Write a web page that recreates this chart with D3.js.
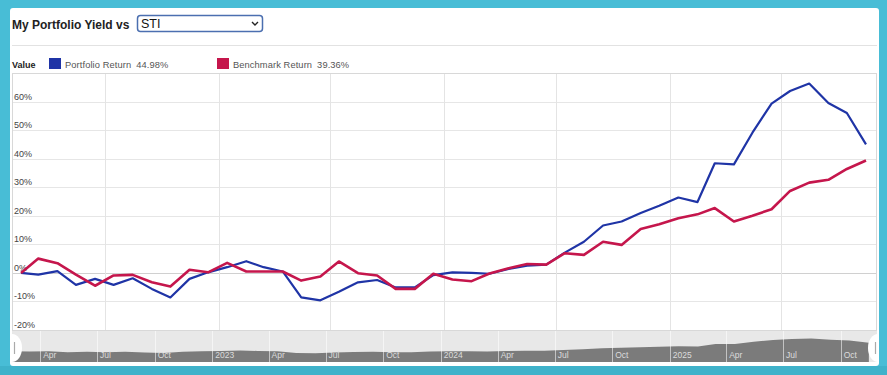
<!DOCTYPE html>
<html>
<head>
<meta charset="utf-8">
<script src="https://cdn.jsdelivr.net/npm/d3@7/dist/d3.min.js"></script>
<style>
  html, body { margin: 0; padding: 0; background: #48bdd6; }
  svg { display: block; }
  text { font-family: "Liberation Sans", Arial, Helvetica, sans-serif; }
</style>
</head>
<body>
<svg id="chart" width="887" height="375"></svg>
<script>
// ---------- DATA ----------
const dates = [
  "2022-02-15","2022-03-15","2022-04-15","2022-05-15","2022-06-15","2022-07-15",
  "2022-08-15","2022-09-15","2022-10-15","2022-11-15","2022-12-15",
  "2023-01-15","2023-02-15","2023-03-15","2023-04-15","2023-05-15","2023-06-15",
  "2023-07-15","2023-08-15","2023-09-15","2023-10-15","2023-11-15","2023-12-15",
  "2024-01-15","2024-02-15","2024-03-15","2024-04-15","2024-05-15","2024-06-15",
  "2024-07-15","2024-08-15","2024-09-15","2024-10-15","2024-11-15","2024-12-15",
  "2025-01-15","2025-02-15","2025-03-15","2025-04-15","2025-05-15","2025-06-15",
  "2025-07-15","2025-08-15","2025-09-15","2025-10-15","2025-11-15"
];
const portfolioReturn = [
  0, -0.6, 0.6, -4.2, -2.1, -4.2, -1.9, -5.6, -8.6, -2.1, 0.2,
  2.0, 4.1, 2.0, 0.5, -8.6, -9.6, -6.6, -3.3, -2.5, -5.1, -5.1, -0.8,
  0.2, 0.0, -0.3, 1.4, 2.5, 2.9, 7.1, 10.9, 16.6, 18.0, 21.0, 23.5,
  26.4, 24.8, 38.4, 38.0, 49.1, 59.3, 63.7, 66.3, 59.5, 56.0, 44.98
];
const benchmarkReturn = [
  0, 5.0, 3.4, -0.6, -4.5, -0.9, -0.7, -3.3, -4.8, 1.1, 0.2,
  3.5, 0.5, 0.5, 0.5, -2.7, -1.3, 4.0, -0.1, -0.9, -5.6, -5.6, -0.3,
  -2.3, -2.9, -0.2, 1.6, 3.1, 2.9, 6.9, 6.3, 10.9, 9.8, 15.4, 17.0,
  19.1, 20.5, 22.7, 18.0, 20.0, 22.3, 28.7, 31.6, 32.6, 36.4, 39.36
];
const yTicks = [-20, -10, 0, 10, 20, 30, 40, 50, 60];
const seriesNames = ["Portfolio Return", "Benchmark Return"];
const seriesColors = ["#1f34a6", "#c5164c"];
const titleText = "My Portfolio Yield vs";
const selectText = "STI";

// ---------- SETUP ----------
const parse = d3.timeParse("%Y-%m-%d");
const dDates = dates.map(parse);
const svg = d3.select("#chart");

// white panel
svg.append("rect").attr("x", 10).attr("y", 8).attr("width", 869).attr("height", 358)
  .attr("rx", 3).attr("fill", "#ffffff");
svg.append("rect").attr("x", 0).attr("y", 366).attr("width", 887).attr("height", 9)
  .attr("fill", "#3fb2ca");

// title
svg.append("text").attr("x", 12).attr("y", 29).attr("font-size", 12).attr("font-weight", "bold")
  .attr("fill", "#222").text(titleText);

// select box
const sel = svg.append("g");
sel.append("rect").attr("x", 137.5).attr("y", 15.5).attr("width", 125).attr("height", 16)
  .attr("rx", 3).attr("fill", "#fff").attr("stroke", "#4b6fb0").attr("stroke-width", 1.5);
sel.append("text").attr("x", 141).attr("y", 28).attr("font-size", 12.5).attr("fill", "#111").text(selectText);
sel.append("path").attr("d", "M252,22 L255,25 L258,22").attr("fill", "none")
  .attr("stroke", "#222").attr("stroke-width", 1.4);

// separator
svg.append("line").attr("x1", 12).attr("x2", 877).attr("y1", 45.5).attr("y2", 45.5)
  .attr("stroke", "#e2e2e2");

// legend
svg.append("text").attr("x", 12).attr("y", 68).attr("font-size", 9).attr("font-weight", "bold")
  .attr("fill", "#222").text("Value");
const legendItems = [
  { name: seriesNames[0], val: portfolioReturn[portfolioReturn.length - 1], color: seriesColors[0], x: 49 },
  { name: seriesNames[1], val: benchmarkReturn[benchmarkReturn.length - 1], color: seriesColors[1], x: 217 }
];
legendItems.forEach(it => {
  svg.append("rect").attr("x", it.x).attr("y", 58).attr("width", 12).attr("height", 11)
    .attr("fill", it.color);
  const t = svg.append("text").attr("x", it.x + 16).attr("y", 67.5).attr("font-size", 9.3)
    .attr("fill", "#555").attr("letter-spacing", 0.1);
  t.append("tspan").text(it.name);
  t.append("tspan").attr("dx", 5).text(d3.format(".2f")(it.val) + "%");
});

// ---------- MAIN PLOT ----------
const plotL = 12, plotR = 877, plotT = 73, plotB = 330;
const x = d3.scaleTime().domain([dDates[0], dDates[dDates.length - 1]]).range([21, 866]);
const y = d3.scaleLinear().domain([-20, 70]).range([plotB, plotT]);

// horizontal gridlines
svg.append("g").selectAll("line").data(yTicks).join("line")
  .attr("x1", plotL).attr("x2", plotR)
  .attr("y1", d => Math.round(y(d)) + 0.5).attr("y2", d => Math.round(y(d)) + 0.5)
  .attr("stroke", d => d === 0 ? "#d0d0d0" : "#e6e6e6");

// vertical gridlines (every 6 months)
const vTicks = x.ticks(d3.timeMonth.every(6));
svg.append("g").selectAll("line").data(vTicks).join("line")
  .attr("x1", d => Math.round(x(d)) + 0.5).attr("x2", d => Math.round(x(d)) + 0.5)
  .attr("y1", plotT).attr("y2", plotB)
  .attr("stroke", "#e4e4e4");

// frame
svg.append("rect").attr("x", plotL + 0.5).attr("y", plotT + 0.5)
  .attr("width", plotR - plotL - 1).attr("height", plotB - plotT)
  .attr("fill", "none").attr("stroke", "#d8d8d8");

// y labels
svg.append("g").selectAll("text").data(yTicks).join("text")
  .attr("x", 14).attr("y", d => y(d) - 2)
  .attr("font-size", 9).attr("fill", "#444")
  .text(d => d + "%");

// lines
const line = d3.line().x((d, i) => x(dDates[i])).y(d => y(d));
svg.append("path").datum(portfolioReturn).attr("d", line)
  .attr("fill", "none").attr("stroke", seriesColors[0]).attr("stroke-width", 2.2)
  .attr("stroke-linejoin", "round");
svg.append("path").datum(benchmarkReturn).attr("d", line)
  .attr("fill", "none").attr("stroke", seriesColors[1]).attr("stroke-width", 2.6)
  .attr("stroke-linejoin", "round");

// ---------- NAVIGATOR ----------
const navT = 331, navB = 362;
const nx = d3.scaleTime().domain([dDates[0], parse("2025-11-28")]).range([12, 877]);
const ny = d3.scaleLinear().domain([-50, 95]).range([361, navT + 2]);
svg.append("rect").attr("x", plotL).attr("y", navT).attr("width", plotR - plotL)
  .attr("height", navB - navT).attr("fill", "#e8e8e8");

const area = d3.area().x((d, i) => nx(dDates[i])).y0(navB).y1(d => ny(d));
svg.append("path").datum(portfolioReturn).attr("d", area).attr("fill", "#7b7b7b");

const navTicks = nx.ticks(d3.timeMonth.every(3));
svg.append("g").selectAll("line").data(navTicks).join("line")
  .attr("x1", d => Math.round(nx(d)) + 0.5).attr("x2", d => Math.round(nx(d)) + 0.5)
  .attr("y1", navT).attr("y2", navB)
  .attr("stroke", "#ffffff").attr("stroke-opacity", 0.55);
const fmt = d => d.getMonth() === 0 ? d3.timeFormat("%Y")(d) : d3.timeFormat("%b")(d);
svg.append("g").selectAll("text").data(navTicks).join("text")
  .attr("x", d => nx(d) + 3).attr("y", 358)
  .attr("font-size", 8.5).attr("fill", "#dcdcdc")
  .text(fmt);

// handles
const clip = svg.append("clipPath").attr("id", "navclip");
clip.append("rect").attr("x", 10).attr("y", navT).attr("width", 869).attr("height", navB - navT + 2);
const hg = svg.append("g").attr("clip-path", "url(#navclip)");
[[12, 1], [878, -1]].forEach(([hx, dir]) => {
  hg.append("ellipse").attr("cx", hx).attr("cy", 348).attr("rx", 10).attr("ry", 14)
    .attr("fill", "#ffffff");
  hg.append("line").attr("x1", hx + dir * 2.5).attr("x2", hx + dir * 2.5)
    .attr("y1", 342).attr("y2", 354).attr("stroke", "#aaa").attr("stroke-width", 1.2);
});
</script>
</body>
</html>
